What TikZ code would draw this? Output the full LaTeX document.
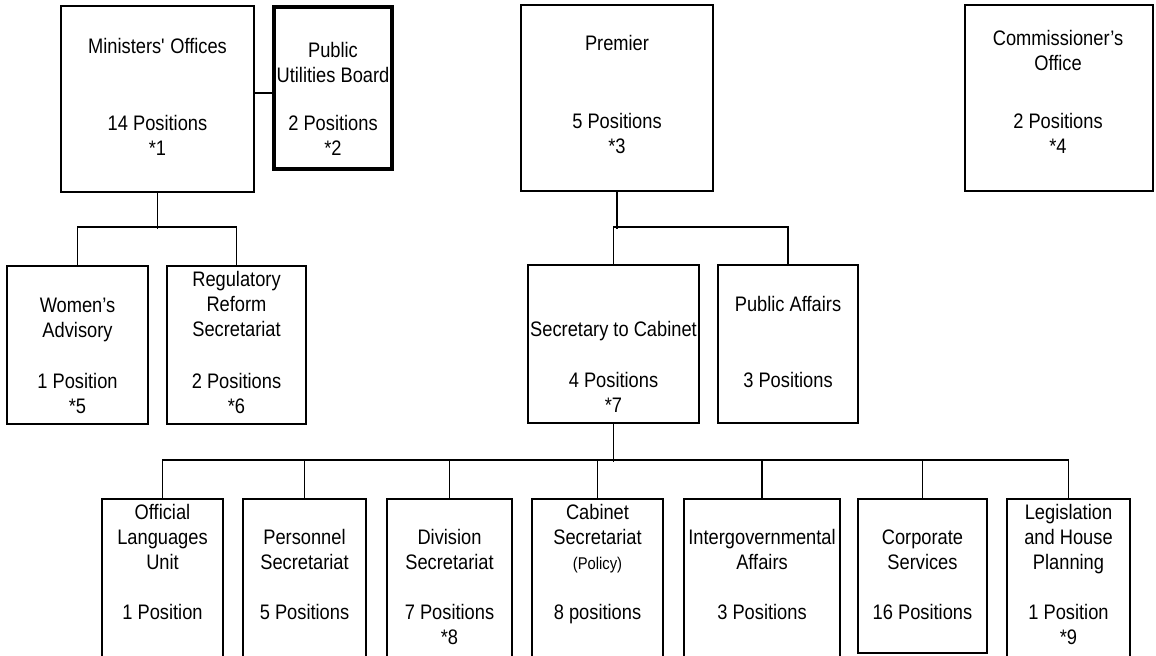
\documentclass[tikz,border=0pt]{standalone}
\usepackage{fontspec}
\setmainfont{Liberation Sans}[FakeStretch=0.87]
\usetikzlibrary{fit}

% first-line strut: text nodes hang from a point 9pt above the first baseline
\newcommand{\fst}{\rule{0pt}{9pt}}

\tikzset{
  unit/.style={draw, line width=0.9pt, inner sep=0pt, fit={#1}},
  boardunit/.style={draw, line width=1.7pt, inner sep=0pt, fit={#1}},
  link/.style={draw, line width=0.85pt},
  txt/.style={font=\fontsize{10.5}{12.5}\selectfont, align=center, inner sep=0pt, anchor=north},
}

\begin{document}
\begin{tikzpicture}[x=0.5pt, y=-0.5pt]
\useasboundingbox (0,0) rectangle (1156,655);

% ---------- top row ----------
\node[unit={(61,6) (254,192)}]       (min)  {};
\node[boardunit={(274,7) (392,169)}] (pub)  {};
\node[unit={(521,5) (713,191)}]      (prem) {};
\node[unit={(965,5) (1153,191)}]     (com)  {};

% ---------- middle row ----------
\node[unit={(7,266) (148,424)}]   (wom)  {};
\node[unit={(167,266) (306,424)}] (reg)  {};
\node[unit={(528,265) (699,423)}] (sec)  {};
\node[unit={(718,265) (858,423)}] (paff) {};

% ---------- bottom row (runs off the lower edge) ----------
\node[unit={(102,499) (223,662)}]  (off)  {};
\node[unit={(243,499) (366,662)}]  (pers) {};
\node[unit={(387,499) (512,662)}]  (div)  {};
\node[unit={(532,499) (663,662)}]  (cab)  {};
\node[unit={(684,499) (840,662)}]  (intg) {};
\node[unit={(858,499) (987,653)}]  (corp) {};
\node[unit={(1007,499) (1130,662)}] (leg) {};

% ---------- connectors ----------
\draw[link] (min.east |- 0,93) -- (pub.west |- 0,93);
\draw[link] (min.south) -- ++(0,36);
\draw[link] (wom.north) -- ++(0,-38) -| (reg.north);
\draw[link] (prem.south) -- ++(0,37);
\draw[link] (sec.north) -- ++(0,-37) -| (paff.north);
\draw[link] (sec.south) -- ++(0,38);
\draw[link] (off.north) -- ++(0,-38) -| (leg.north);
\foreach \n in {pers,div,cab,intg,corp}
  \draw[link] (\n.north) -- ++(0,-38);

% ---------- texts ----------
\node[txt] (minT)  at (min.north |- 0,35)   {\fst Ministers\textquotesingle\ Offices};
\node[txt] (minP)  at (min.north |- 0,112)  {\fst 14 Positions\\*1};
\node[txt] (pubT)  at (pub.north |- 0,39)   {\fst Public\\Utilities Board};
\node[txt] (pubP)  at (pub.north |- 0,112)  {\fst 2 Positions\\*2};
\node[txt] (premT) at (prem.north |- 0,32)  {\fst Premier};
\node[txt] (premP) at (prem.north |- 0,110) {\fst 5 Positions\\*3};
\node[txt] (comT)  at (1058,27)             {\fst Commissioner's\\Office};
\node[txt] (comP)  at (1058,110)            {\fst 2 Positions\\*4};

\node[txt] (womT)  at (wom.north |- 0,294)  {\fst Women's\\Advisory};
\node[txt] (womP)  at (wom.north |- 0,370)  {\fst 1 Position\\*5};
\node[txt] (regT)  at (reg.north |- 0,268)  {\fst Regulatory\\Reform\\Secretariat};
\node[txt] (regP)  at (reg.north |- 0,370)  {\fst 2 Positions\\*6};
\node[txt] (secT)  at (sec.north |- 0,318)  {\fst Secretary to Cabinet};
\node[txt] (secP)  at (sec.north |- 0,369)  {\fst 4 Positions\\*7};
\node[txt] (paffT) at (paff.north |- 0,293) {\fst Public Affairs};
\node[txt] (paffP) at (paff.north |- 0,369) {\fst 3 Positions};

\node[txt] (offT)  at (off.north |- 0,501)  {\fst Official\\Languages\\Unit};
\node[txt] (offP)  at (off.north |- 0,601)  {\fst 1 Position};
\node[txt] (persT) at (pers.north |- 0,526) {\fst Personnel\\Secretariat};
\node[txt] (persP) at (pers.north |- 0,601) {\fst 5 Positions};
\node[txt] (divT)  at (div.north |- 0,526)  {\fst Division\\Secretariat};
\node[txt] (divP)  at (div.north |- 0,601)  {\fst 7 Positions\\*8};
\node[txt] (cabT)  at (cab.north |- 0,501)  {\fst Cabinet\\Secretariat\\{\fontsize{8.5}{12.5}\selectfont (Policy)}};
\node[txt] (cabP)  at (cab.north |- 0,601)  {\fst 8 positions};
\node[txt] (intgT) at (intg.north |- 0,526) {\fst Intergovernmental\\Affairs};
\node[txt] (intgP) at (intg.north |- 0,601) {\fst 3 Positions};
\node[txt] (corpT) at (corp.north |- 0,526) {\fst Corporate\\Services};
\node[txt] (corpP) at (corp.north |- 0,601) {\fst 16 Positions};
\node[txt] (legT)  at (leg.north |- 0,501)  {\fst Legislation\\and House\\Planning};
\node[txt] (legP)  at (leg.north |- 0,601)  {\fst 1 Position\\*9};
\end{tikzpicture}
\end{document}
